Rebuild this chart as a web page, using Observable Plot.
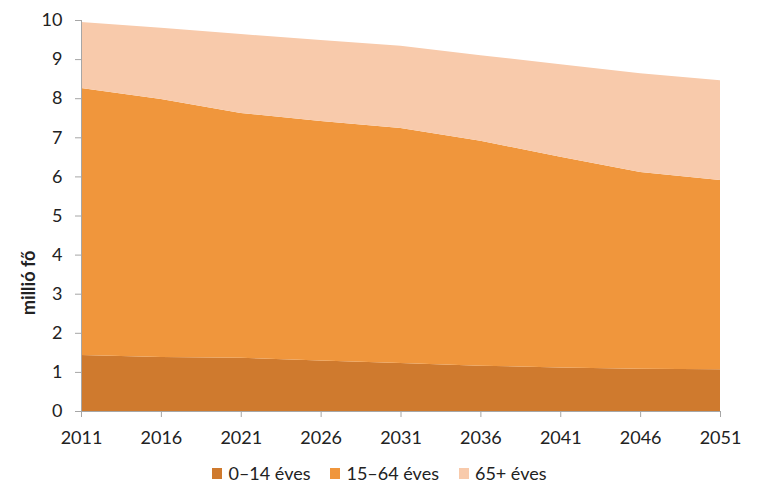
<!DOCTYPE html>
<html>
<head>
<meta charset="utf-8">
<script src="https://cdn.jsdelivr.net/npm/d3@7"></script>
<script src="https://cdn.jsdelivr.net/npm/@observablehq/plot@0.6"></script>
<style>
  body { margin: 0; background: #fff; font-family: Lato, "Open Sans", sans-serif; }
  #legend { display: flex; justify-content: center; align-items: center; height: 46px; font-size: 18px; color: #222; gap: 20px; }
  #legend .item { display: flex; align-items: center; gap: 6px; }
  #legend .sw { width: 10px; height: 11px; display: inline-block; }
</style>
</head>
<body>
<div id="chart"></div>
<div id="legend"></div>
<script>
const years = [2011, 2016, 2021, 2026, 2031, 2036, 2041, 2046, 2051];
const groups = ["0–14 éves", "15–64 éves", "65+ éves"];
const colors = ["#cf7a2e", "#f0963c", "#f8caab"];
const age0to14 = [1.43, 1.38, 1.36, 1.29, 1.23, 1.16, 1.11, 1.08, 1.07];
const age15to64 = [6.83, 6.60, 6.26, 6.13, 6.01, 5.75, 5.39, 5.03, 4.84];
const age65plus = [1.69, 1.82, 2.02, 2.07, 2.10, 2.19, 2.37, 2.53, 2.55];
const yTicks = [0, 1, 2, 3, 4, 5, 6, 7, 8, 9, 10];
const yLabel = "millió fő";

const series = [age0to14, age15to64, age65plus];
const data = [];
groups.forEach((g, gi) => years.forEach((yr, i) => data.push({year: yr, group: g, value: series[gi][i]})));

const plot = Plot.plot({
  width: 759,
  height: 450,
  marginLeft: 81,
  marginRight: 39,
  marginTop: 20,
  marginBottom: 39,
  style: {fontFamily: "Lato, 'Open Sans', sans-serif", fontSize: "18px", color: "#222", background: "#fff"},
  x: {domain: [2011, 2051], ticks: years, tickFormat: "d", tickSize: 6, tickPadding: 15, label: null},
  y: {domain: [0, 10], ticks: yTicks, tickSize: 6, tickPadding: 13, label: null},
  color: {domain: groups, range: colors},
  marks: [
    Plot.areaY(data, {x: "year", y: "value", fill: "group", order: groups, curve: "linear"}),
    Plot.ruleX([2011], {stroke: "#a6a6a6", strokeWidth: 1}),
    Plot.ruleY([0], {stroke: "#a6a6a6", strokeWidth: 1}),
    Plot.axisX({ticks: years, tickFormat: "d", tickSize: 6, tickPadding: 14, stroke: "#a6a6a6", fill: "#222", label: null}),
    Plot.axisY({ticks: yTicks, tickSize: 6, tickPadding: 13, stroke: "#a6a6a6", fill: "#222", label: null}),
    Plot.text([yLabel], {frameAnchor: "left", rotate: -90, dx: -52, dy: 99, fontWeight: "bold", fontSize: 18, fill: "#222"})
  ]
});
document.getElementById("chart").appendChild(plot);

const legend = d3.select("#legend");
groups.forEach((g, i) => {
  const item = legend.append("div").attr("class", "item");
  item.append("span").attr("class", "sw").style("background", colors[i]);
  item.append("span").text(g);
});
</script>
</body>
</html>
